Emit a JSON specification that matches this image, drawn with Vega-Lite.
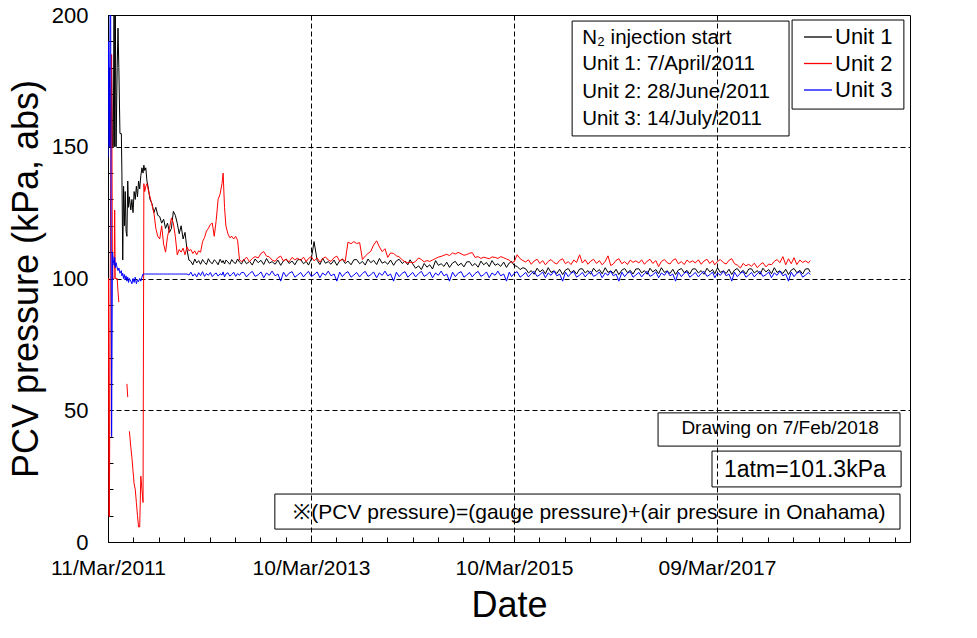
{
  "$schema": "https://vega.github.io/schema/vega-lite/v6.json",
  "width": 802,
  "height": 527,
  "autosize": {"type": "none"},
  "padding": {"left": 108, "top": 15, "right": 67, "bottom": 96},
  "background": "white",
  "config": {
    "font": "Liberation Sans",
    "view": {"stroke": "black", "strokeWidth": 1},
    "axis": {
      "domain": false,
      "labelColor": "black",
      "labelFont": "Liberation Sans",
      "titleColor": "black",
      "titleFont": "Liberation Sans",
      "titleFontWeight": "normal",
      "tickColor": "black",
      "tickWidth": 1,
      "gridColor": "black",
      "gridDash": [5, 3],
      "gridWidth": 1
    }
  },
  "layer": [
    {
      "data": {
        "values": [
          {"t": "2011-03-11", "a": 210, "b": 10, "c": 146},
          {"t": "2011-03-13", "a": 150, "b": 100, "c": 190},
          {"t": "2011-03-16", "a": 180, "b": 9.5, "c": 150},
          {"t": "2011-03-20", "a": 150, "b": 126, "c": 230},
          {"t": "2011-03-24", "a": 180, "b": 185, "c": 40},
          {"t": "2011-03-27", "a": 150, "b": 100, "c": 110},
          {"t": "2011-03-30", "a": 150, "b": 100, "c": 107},
          {"t": "2011-04-02", "a": 215, "b": 100, "c": 105},
          {"t": "2011-04-04", "a": 150, "b": 126, "c": 108},
          {"t": "2011-04-06", "a": 210, "b": 100, "c": 104},
          {"t": "2011-04-09", "a": 150, "b": 100, "c": 106},
          {"t": "2011-04-13", "a": 180, "b": 100, "c": 104},
          {"t": "2011-04-16", "a": 195, "b": 95, "c": 103},
          {"t": "2011-04-19", "a": 180, "b": 91, "c": 104},
          {"t": "2011-04-23", "a": 155, "b": null, "c": 102},
          {"t": "2011-04-28", "a": 155, "b": null, "c": 103},
          {"t": "2011-04-30", "a": 140, "b": null, "c": 101},
          {"t": "2011-05-03", "a": 107, "b": null, "c": 102},
          {"t": "2011-05-06", "a": 135, "b": null, "c": 100},
          {"t": "2011-05-09", "a": 120, "b": null, "c": 101.5},
          {"t": "2011-05-12", "a": 133, "b": null, "c": 99.5},
          {"t": "2011-05-15", "a": 118, "b": null, "c": 101},
          {"t": "2011-05-18", "a": 116, "b": 60, "c": 99},
          {"t": "2011-05-21", "a": 137, "b": 55, "c": 100.5},
          {"t": "2011-05-24", "a": 127, "b": null, "c": 98.5},
          {"t": "2011-05-27", "a": 131, "b": 42, "c": 100},
          {"t": "2011-06-01", "a": 126, "b": 36, "c": 99},
          {"t": "2011-06-05", "a": 130, "b": 32, "c": 98},
          {"t": "2011-06-09", "a": 125, "b": 27, "c": 100},
          {"t": "2011-06-13", "a": 133, "b": 22, "c": 98.5},
          {"t": "2011-06-17", "a": 130, "b": 20, "c": 100.5},
          {"t": "2011-06-21", "a": 135, "b": 15, "c": 98},
          {"t": "2011-06-25", "a": 131, "b": 10, "c": 99.5},
          {"t": "2011-06-29", "a": 137, "b": 5.7, "c": 98.8},
          {"t": "2011-07-03", "a": 134, "b": 5.7, "c": 100},
          {"t": "2011-07-07", "a": 139, "b": 25, "c": 99},
          {"t": "2011-07-11", "a": 142, "b": 20, "c": 100.5},
          {"t": "2011-07-15", "a": 140, "b": 15, "c": 101.7},
          {"t": "2011-07-18", "a": 143, "b": 136, "c": 101.7},
          {"t": "2011-07-21", "a": 141, "b": 133, "c": 101.7},
          {"t": "2011-07-25", "a": 142, "b": 135, "c": 101.7},
          {"t": "2011-07-29", "a": 137, "b": 136, "c": 101.7},
          {"t": "2011-08-02", "a": 135, "b": 134, "c": 101.7},
          {"t": "2011-08-09", "a": 130, "b": 131, "c": 101.7},
          {"t": "2011-08-16", "a": 128.5, "b": 128, "c": 101.7},
          {"t": "2011-08-23", "a": 125, "b": 125, "c": 101.7},
          {"t": "2011-08-30", "a": 127, "b": 119, "c": 101.7},
          {"t": "2011-09-06", "a": 124, "b": 116, "c": 101.7},
          {"t": "2011-09-13", "a": 123.5, "b": 115, "c": 101.7},
          {"t": "2011-09-20", "a": 121, "b": 120, "c": 101.7},
          {"t": "2011-09-27", "a": 122.5, "b": 113, "c": 101.7},
          {"t": "2011-10-04", "a": 119, "b": 110, "c": 101.7},
          {"t": "2011-10-11", "a": 121, "b": 116, "c": 101.7},
          {"t": "2011-10-18", "a": 117.5, "b": 119, "c": 101.7},
          {"t": "2011-10-25", "a": 119, "b": 123, "c": 101.7},
          {"t": "2011-11-01", "a": 125.5, "b": 121, "c": 101.7},
          {"t": "2011-11-08", "a": 124, "b": 116, "c": 101.7},
          {"t": "2011-11-15", "a": 121, "b": 109, "c": 101.7},
          {"t": "2011-11-22", "a": 117, "b": 111, "c": 101.7},
          {"t": "2011-11-29", "a": 120, "b": 110, "c": 101.7},
          {"t": "2011-12-06", "a": 115, "b": 111.5, "c": 101.7},
          {"t": "2011-12-13", "a": 117.5, "b": 109, "c": 101.7},
          {"t": "2011-12-20", "a": 111, "b": 112, "c": 101.7},
          {"t": "2011-12-27", "a": 107, "b": 110.5, "c": 101.3},
          {"t": "2012-01-03", "a": 106.5, "b": 111, "c": 102.4},
          {"t": "2012-01-10", "a": 105.2, "b": 109.5, "c": 100.9},
          {"t": "2012-01-17", "a": 107.4, "b": 110.5, "c": 101.8},
          {"t": "2012-01-24", "a": 105.9, "b": 109, "c": 100.6},
          {"t": "2012-01-31", "a": 106.8, "b": 110.5, "c": 102.2},
          {"t": "2012-02-07", "a": 105.4, "b": 110, "c": 101.1},
          {"t": "2012-02-14", "a": 107.2, "b": 114, "c": 102.6},
          {"t": "2012-02-21", "a": 106.1, "b": 115.5, "c": 100.8},
          {"t": "2012-02-28", "a": 105.3, "b": 118, "c": 101.9},
          {"t": "2012-03-06", "a": 107.5, "b": 119, "c": 101.2},
          {"t": "2012-03-13", "a": 106.2, "b": 120.5, "c": 102.3},
          {"t": "2012-03-20", "a": 105.6, "b": 121, "c": 100.7},
          {"t": "2012-03-27", "a": 107.1, "b": 116, "c": 101.6},
          {"t": "2012-04-03", "a": 106.4, "b": 122, "c": 102.1},
          {"t": "2012-04-10", "a": 105.2, "b": 130, "c": 100.9},
          {"t": "2012-04-17", "a": 107.3, "b": 132, "c": 101.8},
          {"t": "2012-04-24", "a": 106, "b": 136, "c": 101.3},
          {"t": "2012-04-28", "a": 106.8, "b": 140, "c": 102.5},
          {"t": "2012-05-03", "a": 105.5, "b": 127, "c": 100.6},
          {"t": "2012-05-08", "a": 107, "b": 120, "c": 101.7},
          {"t": "2012-05-15", "a": 106.3, "b": 117, "c": 102.2},
          {"t": "2012-05-22", "a": 105.4, "b": 115.5, "c": 100.9},
          {"t": "2012-05-29", "a": 107.2, "b": 116, "c": 101.5},
          {"t": "2012-06-05", "a": 106.1, "b": 115, "c": 102.4},
          {"t": "2012-06-12", "a": 105.7, "b": 116, "c": 100.8},
          {"t": "2012-06-19", "a": 107.4, "b": 114.5, "c": 101.9},
          {"t": "2012-06-26", "a": 106.2, "b": 107, "c": 101.2},
          {"t": "2012-07-03", "a": 105.5, "b": 106.5, "c": 102.3},
          {"t": "2012-07-11", "a": 107.2, "b": 106.9, "c": 102.3},
          {"t": "2012-07-21", "a": 105.6, "b": 108.1, "c": 100.6},
          {"t": "2012-08-01", "a": 106.5, "b": 106.4, "c": 101.9},
          {"t": "2012-08-11", "a": 105.1, "b": 107.6, "c": 102.7},
          {"t": "2012-08-21", "a": 107.4, "b": 108.3, "c": 100.8},
          {"t": "2012-09-01", "a": 106.0, "b": 107.8, "c": 101.4},
          {"t": "2012-09-11", "a": 106.9, "b": 109.5, "c": 102.5},
          {"t": "2012-09-21", "a": 105.3, "b": 110.2, "c": 100.3},
          {"t": "2012-10-01", "a": 107.6, "b": 108.5, "c": 102.1},
          {"t": "2012-10-11", "a": 105.8, "b": 108.2, "c": 101.2},
          {"t": "2012-10-21", "a": 106.4, "b": 107.0, "c": 102.8},
          {"t": "2012-11-01", "a": 105.4, "b": 106.5, "c": 101.0},
          {"t": "2012-11-11", "a": 107.0, "b": 107.9, "c": 101.7},
          {"t": "2012-11-21", "a": 105.0, "b": 108.5, "c": 99.0},
          {"t": "2012-12-01", "a": 106.7, "b": 106.6, "c": 102.4},
          {"t": "2012-12-11", "a": 107.3, "b": 107.4, "c": 100.7},
          {"t": "2012-12-21", "a": 105.7, "b": 106.3, "c": 102.0},
          {"t": "2013-01-01", "a": 106.6, "b": 108.0, "c": 102.6},
          {"t": "2013-01-11", "a": 105.2, "b": 107.1, "c": 100.5},
          {"t": "2013-01-21", "a": 107.1, "b": 107.7, "c": 101.3},
          {"t": "2013-02-01", "a": 107.2, "b": 106.9, "c": 102.3},
          {"t": "2013-02-11", "a": 105.6, "b": 108.1, "c": 100.6},
          {"t": "2013-02-21", "a": 106.5, "b": 106.4, "c": 101.9},
          {"t": "2013-03-01", "a": 105.1, "b": 107.6, "c": 102.7},
          {"t": "2013-03-11", "a": 107.4, "b": 108.3, "c": 100.8},
          {"t": "2013-03-21", "a": 114.0, "b": 106.7, "c": 101.4},
          {"t": "2013-04-01", "a": 106.9, "b": 107.8, "c": 102.5},
          {"t": "2013-04-11", "a": 105.3, "b": 106.2, "c": 100.3},
          {"t": "2013-04-21", "a": 107.6, "b": 107.5, "c": 102.1},
          {"t": "2013-05-01", "a": 105.8, "b": 108.2, "c": 101.2},
          {"t": "2013-05-11", "a": 106.4, "b": 107.0, "c": 102.8},
          {"t": "2013-05-21", "a": 105.4, "b": 106.5, "c": 101.0},
          {"t": "2013-06-01", "a": 107.0, "b": 107.9, "c": 101.7},
          {"t": "2013-06-11", "a": 105.0, "b": 108.5, "c": 99.0},
          {"t": "2013-06-21", "a": 106.7, "b": 106.6, "c": 102.4},
          {"t": "2013-07-01", "a": 107.3, "b": 107.4, "c": 100.7},
          {"t": "2013-07-11", "a": 105.7, "b": 106.5, "c": 102.0},
          {"t": "2013-07-21", "a": 106.6, "b": 113.8, "c": 102.6},
          {"t": "2013-08-01", "a": 105.2, "b": 113.2, "c": 100.5},
          {"t": "2013-08-11", "a": 107.1, "b": 114.0, "c": 101.3},
          {"t": "2013-08-21", "a": 107.2, "b": 113.3, "c": 102.3},
          {"t": "2013-09-01", "a": 105.6, "b": 113.6, "c": 100.6},
          {"t": "2013-09-11", "a": 106.5, "b": 107.2, "c": 101.9},
          {"t": "2013-09-21", "a": 105.1, "b": 108.5, "c": 102.7},
          {"t": "2013-10-01", "a": 107.4, "b": 109.5, "c": 100.8},
          {"t": "2013-10-11", "a": 106.0, "b": 110.3, "c": 101.4},
          {"t": "2013-10-21", "a": 106.9, "b": 112.7, "c": 102.5},
          {"t": "2013-11-01", "a": 105.3, "b": 114.3, "c": 100.3},
          {"t": "2013-11-11", "a": 107.6, "b": 112.0, "c": 102.1},
          {"t": "2013-11-21", "a": 105.8, "b": 110.2, "c": 101.2},
          {"t": "2013-12-01", "a": 106.4, "b": 111.3, "c": 102.8},
          {"t": "2013-12-11", "a": 105.4, "b": 108.0, "c": 101.0},
          {"t": "2013-12-21", "a": 107.0, "b": 109.7, "c": 101.7},
          {"t": "2014-01-01", "a": 105.0, "b": 109.5, "c": 99.0},
          {"t": "2014-01-11", "a": 106.7, "b": 108.6, "c": 102.4},
          {"t": "2014-01-21", "a": 107.3, "b": 108.2, "c": 100.7},
          {"t": "2014-02-01", "a": 105.7, "b": 107.1, "c": 102.0},
          {"t": "2014-02-11", "a": 106.6, "b": 106.3, "c": 102.6},
          {"t": "2014-02-21", "a": 105.2, "b": 106.0, "c": 100.5},
          {"t": "2014-03-01", "a": 107.1, "b": 106.2, "c": 101.3},
          {"t": "2014-03-11", "a": 105.5, "b": 105.9, "c": 102.3},
          {"t": "2014-03-21", "a": 103.9, "b": 106.5, "c": 100.6},
          {"t": "2014-04-01", "a": 104.8, "b": 107.8, "c": 101.9},
          {"t": "2014-04-11", "a": 103.4, "b": 107.2, "c": 102.7},
          {"t": "2014-04-21", "a": 105.7, "b": 106.3, "c": 100.8},
          {"t": "2014-05-01", "a": 104.3, "b": 106.8, "c": 101.4},
          {"t": "2014-05-11", "a": 105.2, "b": 106.5, "c": 102.5},
          {"t": "2014-05-21", "a": 103.6, "b": 107.0, "c": 100.3},
          {"t": "2014-06-01", "a": 106.8, "b": 107.6, "c": 102.1},
          {"t": "2014-06-11", "a": 105.0, "b": 108.1, "c": 101.2},
          {"t": "2014-06-21", "a": 105.6, "b": 108.4, "c": 102.8},
          {"t": "2014-07-01", "a": 104.6, "b": 108.8, "c": 101.0},
          {"t": "2014-07-11", "a": 106.2, "b": 109.2, "c": 101.7},
          {"t": "2014-07-21", "a": 104.2, "b": 108.7, "c": 99.0},
          {"t": "2014-08-01", "a": 105.9, "b": 109.7, "c": 102.4},
          {"t": "2014-08-11", "a": 106.5, "b": 109.3, "c": 100.7},
          {"t": "2014-08-21", "a": 104.9, "b": 109.9, "c": 102.0},
          {"t": "2014-09-01", "a": 105.8, "b": 109.4, "c": 102.6},
          {"t": "2014-09-11", "a": 104.4, "b": 108.8, "c": 100.5},
          {"t": "2014-09-21", "a": 106.3, "b": 109.1, "c": 101.3},
          {"t": "2014-10-01", "a": 106.4, "b": 109.6, "c": 102.3},
          {"t": "2014-10-11", "a": 104.8, "b": 109.8, "c": 100.6},
          {"t": "2014-10-21", "a": 105.7, "b": 108.0, "c": 101.9},
          {"t": "2014-11-01", "a": 104.3, "b": 108.3, "c": 102.7},
          {"t": "2014-11-11", "a": 106.6, "b": 107.6, "c": 100.8},
          {"t": "2014-11-21", "a": 105.2, "b": 108.1, "c": 101.4},
          {"t": "2014-12-01", "a": 106.1, "b": 107.8, "c": 102.5},
          {"t": "2014-12-11", "a": 104.5, "b": 107.5, "c": 100.3},
          {"t": "2014-12-21", "a": 106.8, "b": 108.2, "c": 102.1},
          {"t": "2015-01-01", "a": 105.0, "b": 108.0, "c": 101.2},
          {"t": "2015-01-11", "a": 105.6, "b": 107.6, "c": 102.8},
          {"t": "2015-01-21", "a": 104.6, "b": 108.3, "c": 101.0},
          {"t": "2015-02-01", "a": 106.2, "b": 107.9, "c": 101.7},
          {"t": "2015-02-11", "a": 104.2, "b": 107.4, "c": 99.0},
          {"t": "2015-02-21", "a": 105.9, "b": 107.0, "c": 102.4},
          {"t": "2015-03-01", "a": 106.5, "b": 106.0, "c": 100.7},
          {"t": "2015-03-11", "a": 104.9, "b": 106.4, "c": 102.0},
          {"t": "2015-03-21", "a": 104.6, "b": 109.0, "c": 102.6},
          {"t": "2015-04-01", "a": 103.4, "b": 107.5, "c": 100.5},
          {"t": "2015-04-11", "a": 104.1, "b": 106.8, "c": 101.3},
          {"t": "2015-04-21", "a": 103.7, "b": 106.3, "c": 102.3},
          {"t": "2015-05-01", "a": 102.1, "b": 107.1, "c": 100.6},
          {"t": "2015-05-11", "a": 103.0, "b": 105.4, "c": 101.9},
          {"t": "2015-05-21", "a": 101.6, "b": 106.6, "c": 102.7},
          {"t": "2015-06-01", "a": 103.9, "b": 107.3, "c": 100.8},
          {"t": "2015-06-11", "a": 102.5, "b": 105.7, "c": 101.4},
          {"t": "2015-06-21", "a": 103.4, "b": 106.8, "c": 102.5},
          {"t": "2015-07-01", "a": 101.8, "b": 105.2, "c": 100.3},
          {"t": "2015-07-11", "a": 104.1, "b": 106.5, "c": 102.1},
          {"t": "2015-07-21", "a": 102.3, "b": 107.2, "c": 101.2},
          {"t": "2015-08-01", "a": 102.9, "b": 106.0, "c": 102.8},
          {"t": "2015-08-11", "a": 101.9, "b": 105.5, "c": 101.0},
          {"t": "2015-08-21", "a": 103.5, "b": 106.9, "c": 101.7},
          {"t": "2015-09-01", "a": 101.5, "b": 107.5, "c": 99.0},
          {"t": "2015-09-11", "a": 103.2, "b": 105.6, "c": 102.4},
          {"t": "2015-09-21", "a": 103.8, "b": 106.4, "c": 100.7},
          {"t": "2015-10-01", "a": 102.2, "b": 105.3, "c": 102.0},
          {"t": "2015-10-11", "a": 103.1, "b": 107.0, "c": 102.6},
          {"t": "2015-10-21", "a": 101.7, "b": 106.1, "c": 100.5},
          {"t": "2015-11-01", "a": 103.6, "b": 109.0, "c": 101.3},
          {"t": "2015-11-11", "a": 103.7, "b": 105.9, "c": 102.3},
          {"t": "2015-11-21", "a": 102.1, "b": 107.1, "c": 100.6},
          {"t": "2015-12-01", "a": 103.0, "b": 105.4, "c": 101.9},
          {"t": "2015-12-11", "a": 101.6, "b": 106.6, "c": 102.7},
          {"t": "2015-12-21", "a": 103.9, "b": 107.3, "c": 100.8},
          {"t": "2016-01-01", "a": 102.5, "b": 105.7, "c": 101.4},
          {"t": "2016-01-11", "a": 103.4, "b": 106.8, "c": 102.5},
          {"t": "2016-01-21", "a": 101.8, "b": 105.2, "c": 100.3},
          {"t": "2016-02-01", "a": 104.1, "b": 106.5, "c": 102.1},
          {"t": "2016-02-11", "a": 102.3, "b": 108.6, "c": 101.2},
          {"t": "2016-02-21", "a": 102.9, "b": 104.9, "c": 102.8},
          {"t": "2016-03-01", "a": 101.9, "b": 105.5, "c": 101.0},
          {"t": "2016-03-11", "a": 103.5, "b": 106.9, "c": 101.7},
          {"t": "2016-03-21", "a": 101.5, "b": 107.5, "c": 99.0},
          {"t": "2016-04-01", "a": 103.2, "b": 105.6, "c": 102.4},
          {"t": "2016-04-11", "a": 103.8, "b": 106.4, "c": 100.7},
          {"t": "2016-04-21", "a": 102.2, "b": 105.3, "c": 102.0},
          {"t": "2016-05-01", "a": 103.1, "b": 107.0, "c": 102.6},
          {"t": "2016-05-11", "a": 101.7, "b": 106.1, "c": 100.5},
          {"t": "2016-05-21", "a": 103.6, "b": 106.7, "c": 101.3},
          {"t": "2016-06-01", "a": 103.7, "b": 105.9, "c": 102.3},
          {"t": "2016-06-11", "a": 102.1, "b": 107.1, "c": 100.6},
          {"t": "2016-06-21", "a": 103.0, "b": 105.4, "c": 101.9},
          {"t": "2016-07-01", "a": 101.6, "b": 106.6, "c": 102.7},
          {"t": "2016-07-11", "a": 103.9, "b": 107.3, "c": 100.8},
          {"t": "2016-07-21", "a": 102.5, "b": 105.7, "c": 101.4},
          {"t": "2016-08-01", "a": 103.4, "b": 106.8, "c": 102.5},
          {"t": "2016-08-11", "a": 101.8, "b": 104.5, "c": 100.3},
          {"t": "2016-08-21", "a": 104.1, "b": 106.5, "c": 102.1},
          {"t": "2016-09-01", "a": 102.3, "b": 107.2, "c": 101.2},
          {"t": "2016-09-11", "a": 102.9, "b": 106.0, "c": 102.8},
          {"t": "2016-09-21", "a": 101.9, "b": 105.5, "c": 101.0},
          {"t": "2016-10-01", "a": 103.5, "b": 106.9, "c": 101.7},
          {"t": "2016-10-11", "a": 101.5, "b": 107.5, "c": 99.0},
          {"t": "2016-10-21", "a": 103.2, "b": 105.6, "c": 102.4},
          {"t": "2016-11-01", "a": 103.8, "b": 106.4, "c": 100.7},
          {"t": "2016-11-11", "a": 102.2, "b": 105.3, "c": 102.0},
          {"t": "2016-11-21", "a": 103.1, "b": 107.0, "c": 102.6},
          {"t": "2016-12-01", "a": 101.7, "b": 106.1, "c": 100.5},
          {"t": "2016-12-11", "a": 103.6, "b": 106.7, "c": 101.3},
          {"t": "2016-12-21", "a": 103.7, "b": 105.9, "c": 102.3},
          {"t": "2017-01-01", "a": 102.1, "b": 107.1, "c": 100.6},
          {"t": "2017-01-11", "a": 103.0, "b": 105.4, "c": 101.9},
          {"t": "2017-01-21", "a": 101.6, "b": 106.6, "c": 102.7},
          {"t": "2017-02-01", "a": 103.9, "b": 107.3, "c": 100.8},
          {"t": "2017-02-11", "a": 102.5, "b": 105.7, "c": 101.4},
          {"t": "2017-02-21", "a": 103.4, "b": 106.8, "c": 102.5},
          {"t": "2017-03-01", "a": 101.8, "b": 105.2, "c": 100.3},
          {"t": "2017-03-11", "a": 104.1, "b": 106.5, "c": 102.1},
          {"t": "2017-03-21", "a": 102.3, "b": 107.2, "c": 101.2},
          {"t": "2017-04-01", "a": 102.9, "b": 106.0, "c": 102.8},
          {"t": "2017-04-11", "a": 101.9, "b": 105.5, "c": 101.0},
          {"t": "2017-04-21", "a": 103.5, "b": 106.9, "c": 101.7},
          {"t": "2017-05-01", "a": 101.5, "b": 107.5, "c": 99.0},
          {"t": "2017-05-11", "a": 103.2, "b": 105.6, "c": 102.4},
          {"t": "2017-05-21", "a": 103.8, "b": 105.1, "c": 100.7},
          {"t": "2017-06-01", "a": 102.2, "b": 104.0, "c": 102.0},
          {"t": "2017-06-11", "a": 103.1, "b": 105.7, "c": 102.6},
          {"t": "2017-06-21", "a": 101.7, "b": 104.8, "c": 100.5},
          {"t": "2017-07-01", "a": 103.6, "b": 105.4, "c": 101.3},
          {"t": "2017-07-11", "a": 103.7, "b": 104.6, "c": 102.3},
          {"t": "2017-07-21", "a": 102.1, "b": 105.8, "c": 100.6},
          {"t": "2017-08-01", "a": 103.0, "b": 104.1, "c": 101.9},
          {"t": "2017-08-11", "a": 101.6, "b": 105.3, "c": 102.7},
          {"t": "2017-08-21", "a": 103.9, "b": 106.0, "c": 100.8},
          {"t": "2017-09-01", "a": 102.5, "b": 104.4, "c": 101.4},
          {"t": "2017-09-11", "a": 103.4, "b": 105.5, "c": 102.5},
          {"t": "2017-09-21", "a": 101.8, "b": 105.2, "c": 100.3},
          {"t": "2017-10-01", "a": 104.1, "b": 106.5, "c": 102.1},
          {"t": "2017-10-11", "a": 102.3, "b": 107.2, "c": 101.2},
          {"t": "2017-10-21", "a": 102.9, "b": 106.0, "c": 102.8},
          {"t": "2017-11-01", "a": 101.9, "b": 108.3, "c": 101.0},
          {"t": "2017-11-11", "a": 103.5, "b": 105.2, "c": 101.7},
          {"t": "2017-11-21", "a": 101.5, "b": 107.5, "c": 99.0},
          {"t": "2017-12-01", "a": 103.2, "b": 105.6, "c": 102.4},
          {"t": "2017-12-11", "a": 103.8, "b": 107.9, "c": 100.7},
          {"t": "2017-12-21", "a": 102.2, "b": 105.3, "c": 102.0},
          {"t": "2018-01-01", "a": 103.1, "b": 107.0, "c": 102.6},
          {"t": "2018-01-11", "a": 101.7, "b": 106.1, "c": 100.5},
          {"t": "2018-01-21", "a": 103.6, "b": 106.7, "c": 101.3},
          {"t": "2018-02-01", "a": 103.7, "b": 105.9, "c": 102.3},
          {"t": "2018-02-07", "a": 102.4, "b": 106.8, "c": 101.5}
        ]
      },
      "transform": [{"fold": ["a", "b", "c"], "as": ["unit", "kpa"]}],
      "mark": {"type": "line", "strokeWidth": 1, "clip": true},
      "encoding": {
        "x": {
          "field": "t",
          "type": "temporal",
          "scale": {"domain": [{"year": 2011, "month": 3, "date": 11}, {"year": 2019, "month": 2, "date": 1}]},
          "axis": {
            "title": "Date",
            "titleFontSize": 36,
            "titleY": 74,
            "titleBaseline": "alphabetic",
            "tickCount": 200,
            "values": [
              {"year": 2011, "month": 3, "date": 11}, {"year": 2011, "month": 6, "date": 10}, {"year": 2011, "month": 9, "date": 9}, {"year": 2011, "month": 12, "date": 10},
              {"year": 2012, "month": 3, "date": 10}, {"year": 2012, "month": 6, "date": 9}, {"year": 2012, "month": 9, "date": 8}, {"year": 2012, "month": 12, "date": 9},
              {"year": 2013, "month": 3, "date": 10}, {"year": 2013, "month": 6, "date": 9}, {"year": 2013, "month": 9, "date": 8}, {"year": 2013, "month": 12, "date": 9},
              {"year": 2014, "month": 3, "date": 10}, {"year": 2014, "month": 6, "date": 9}, {"year": 2014, "month": 9, "date": 8}, {"year": 2014, "month": 12, "date": 9},
              {"year": 2015, "month": 3, "date": 10}, {"year": 2015, "month": 6, "date": 9}, {"year": 2015, "month": 9, "date": 8}, {"year": 2015, "month": 12, "date": 9},
              {"year": 2016, "month": 3, "date": 9}, {"year": 2016, "month": 6, "date": 8}, {"year": 2016, "month": 9, "date": 7}, {"year": 2016, "month": 12, "date": 8},
              {"year": 2017, "month": 3, "date": 9}, {"year": 2017, "month": 6, "date": 8}, {"year": 2017, "month": 9, "date": 7}, {"year": 2017, "month": 12, "date": 8},
              {"year": 2018, "month": 3, "date": 9}, {"year": 2018, "month": 6, "date": 8}, {"year": 2018, "month": 9, "date": 7}, {"year": 2018, "month": 12, "date": 8}
            ],
            "format": "%d/%b/%Y",
            "labelFontSize": 21,
            "labelFlush": false,
            "labelOverlap": false,
            "labelExpr": "month(datum.value) == 2 && year(datum.value) % 2 == 1 ? datum.label : ''",
            "tickSize": -5,
            "labelPadding": 20.7,
            "grid": true,
            "gridOpacity": {"condition": {"test": "month(datum.value) == 2 && year(datum.value) % 2 == 1 && year(datum.value) > 2011", "value": 1}, "value": 0}
          }
        },
        "y": {
          "field": "kpa",
          "type": "quantitative",
          "scale": {"domain": [0, 200], "nice": false},
          "axis": {
            "title": "PCV pressure (kPa, abs)",
            "titleFontSize": 36,
            "titleAngle": -90,
            "titleX": -71,
            "titleY": 263.5,
            "titleAlign": "center",
            "titleBaseline": "alphabetic",
            "tickCount": 200,
            "values": [0, 10, 20, 30, 40, 50, 60, 70, 80, 90, 100, 110, 120, 130, 140, 150, 160, 170, 180, 190, 200],
            "labelFontSize": 22,
            "labelOverlap": false,
            "labelFlush": false,
            "labelExpr": "datum.value % 50 == 0 ? datum.label : ''",
            "tickSize": -5,
            "labelPadding": 25,
            "grid": true,
            "gridOpacity": {"condition": {"test": "datum.value % 50 == 0 && datum.value > 0 && datum.value < 200", "value": 1}, "value": 0}
          }
        },
        "color": {
          "field": "unit",
          "type": "nominal",
          "scale": {"domain": ["a", "b", "c"], "range": ["#000000", "#ff0000", "#0000ff"]},
          "legend": {
            "orient": "none",
            "legendX": 695,
            "legendY": 7,
            "title": null,
            "padding": 0,
            "symbolType": "stroke",
            "symbolSize": 784,
            "symbolStrokeWidth": 1.3,
            "labelFontSize": 22,
            "labelFont": "Liberation Sans",
            "labelColor": "black",
            "labelOffset": 2,
            "rowPadding": 0.5,
            "labelExpr": "datum.label == 'a' ? 'Unit 1' : datum.label == 'b' ? 'Unit 2' : 'Unit 3'"
          }
        }
      }
    },
    {
      "data": {
        "values": [
          {"t": "2015-10-05", "t2": "2017-11-23", "kpa": 197.7, "kpa2": 154.1},
          {"t": "2017-12-04", "t2": "2019-01-10", "kpa": 198.1, "kpa2": 164.3},
          {"t": "2016-08-09", "t2": "2018-12-27", "kpa": 49.0, "kpa2": 36.4},
          {"t": "2017-02-19", "t2": "2018-12-31", "kpa": 34.5, "kpa2": 20.9},
          {"t": "2012-10-31", "t2": "2018-12-27", "kpa": 18.2, "kpa2": 4.9}
        ]
      },
      "mark": {"type": "rect", "fill": "white", "fillOpacity": 0, "stroke": "black", "strokeWidth": 1},
      "encoding": {
        "x": {"field": "t", "type": "temporal"},
        "x2": {"field": "t2"},
        "y": {"field": "kpa", "type": "quantitative"},
        "y2": {"field": "kpa2"}
      }
    },
    {
      "data": {
        "values": [
          {"t": "2015-11-10", "kpa": 191.2, "note": "N₂ injection start"},
          {"t": "2015-11-10", "kpa": 181.3, "note": "Unit 1: 7/April/2011"},
          {"t": "2015-11-10", "kpa": 170.9, "note": "Unit 2: 28/June/2011"},
          {"t": "2015-11-10", "kpa": 160.5, "note": "Unit 3: 14/July/2011"}
        ]
      },
      "mark": {"type": "text", "align": "left", "baseline": "middle", "fontSize": 20.5, "font": "Liberation Sans", "color": "black"},
      "encoding": {
        "x": {"field": "t", "type": "temporal"},
        "y": {"field": "kpa", "type": "quantitative"},
        "text": {"field": "note"}
      }
    },
    {
      "data": {"values": [{"t": "2017-10-22", "kpa": 43.3, "note": "Drawing on 7/Feb/2018"}]},
      "mark": {"type": "text", "align": "center", "baseline": "middle", "fontSize": 19, "font": "Liberation Sans", "color": "black"},
      "encoding": {
        "x": {"field": "t", "type": "temporal"},
        "y": {"field": "kpa", "type": "quantitative"},
        "text": {"field": "note"}
      }
    },
    {
      "data": {"values": [{"t": "2018-01-19", "kpa": 27.3, "note": "1atm=101.3kPa"}]},
      "mark": {"type": "text", "align": "center", "baseline": "middle", "fontSize": 23, "font": "Liberation Sans", "color": "black"},
      "encoding": {
        "x": {"field": "t", "type": "temporal"},
        "y": {"field": "kpa", "type": "quantitative"},
        "text": {"field": "note"}
      }
    },
    {
      "data": {"values": [{"t": "2015-12-06", "kpa": 11.0, "note": "※(PCV pressure)=(gauge  pressure)+(air pressure in Onahama)"}]},
      "mark": {"type": "text", "align": "center", "baseline": "middle", "fontSize": 21, "font": "Liberation Sans", "color": "black"},
      "encoding": {
        "x": {"field": "t", "type": "temporal"},
        "y": {"field": "kpa", "type": "quantitative"},
        "text": {"field": "note"}
      }
    }
  ]
}
